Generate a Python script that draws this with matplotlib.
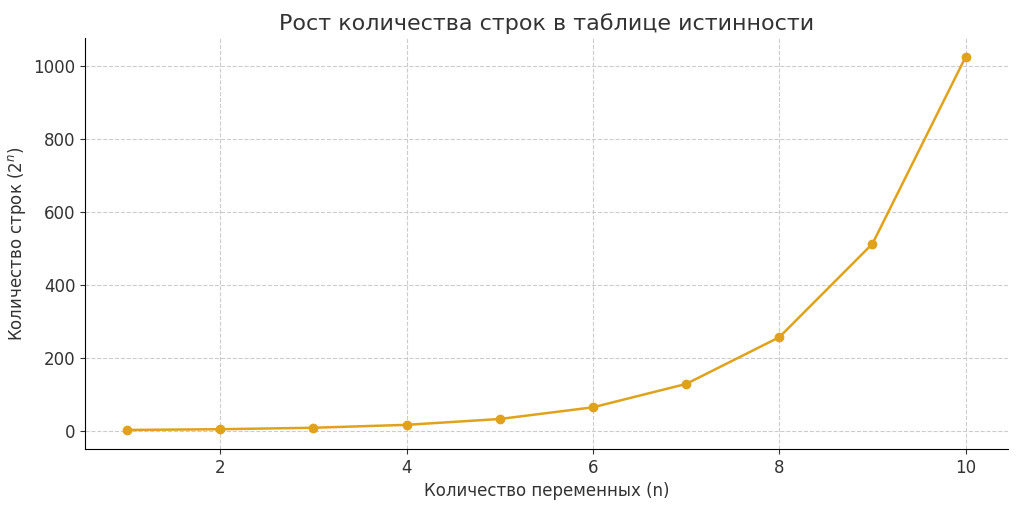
import matplotlib
matplotlib.use("Agg")
import matplotlib.pyplot as plt

n_values = [1, 2, 3, 4, 5, 6, 7, 8, 9, 10]
rows = [2, 4, 8, 16, 32, 64, 128, 256, 512, 1024]

fig = plt.figure(figsize=(10.24, 5.09), dpi=100)
ax = fig.add_axes([0.083, 0.118, 0.901, 0.807])
ax.plot(n_values, rows, color="#E0A21B", marker="o", markersize=6, linewidth=1.8)
ax.set_title("Рост количества строк в таблице истинности", fontsize=16, color="#333333")
ax.set_xlabel("Количество переменных (n)", fontsize=12, color="#333333")
ax.set_ylabel("Количество строк ($2^n$)", fontsize=12, color="#333333")
ax.grid(True, linestyle="--", color="#cccccc", linewidth=0.8)
ax.spines["top"].set_visible(False)
ax.spines["right"].set_visible(False)
ax.tick_params(labelsize=12, colors="#333333")
ax.set_xticks([2, 4, 6, 8, 10])
ax.set_ylim(-50, 1075)
ax.set_xlim(0.55, 10.45)
fig.savefig("out.png")
